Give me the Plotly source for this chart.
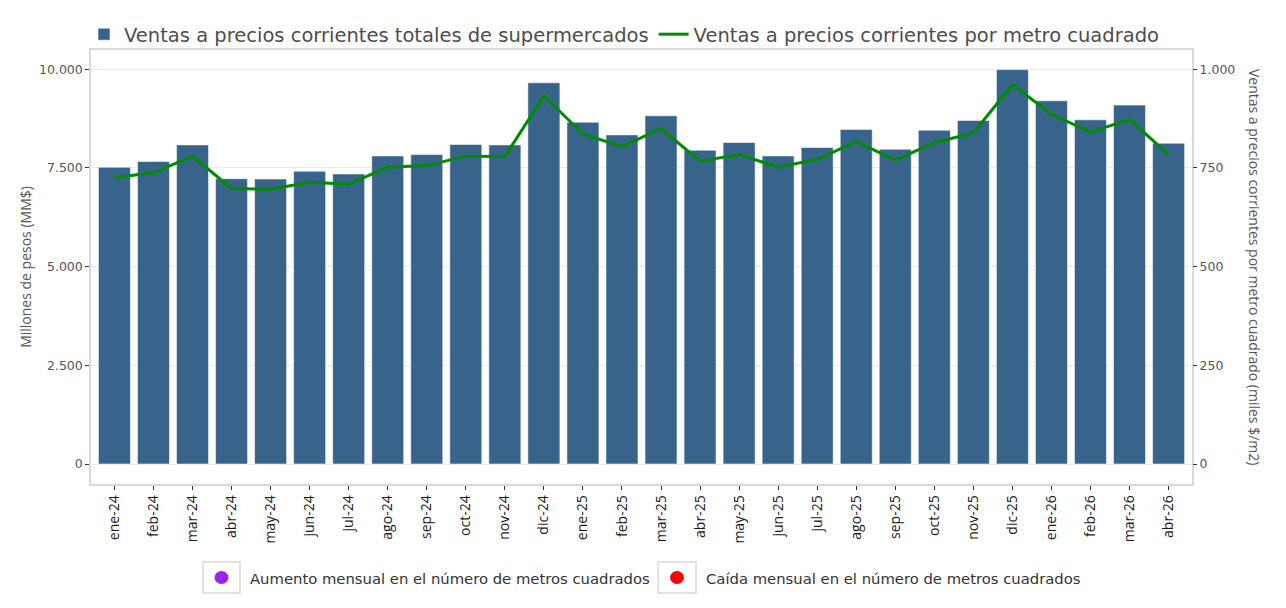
import plotly.graph_objects as go

# ---- data ----
meses = ["ene-24", "feb-24", "mar-24", "abr-24", "may-24", "jun-24", "jul-24",
         "ago-24", "sep-24", "oct-24", "nov-24", "dic-24",
         "ene-25", "feb-25", "mar-25", "abr-25", "may-25", "jun-25", "jul-25",
         "ago-25", "sep-25", "oct-25", "nov-25", "dic-25",
         "ene-26", "feb-26", "mar-26", "abr-26"]

ventas_totales = [7518, 7663, 8084, 7230, 7221, 7416, 7348,
                  7805, 7840, 8094, 8084, 9660,
                  8661, 8338, 8821, 7950, 8145, 7805, 8018,
                  8476, 7975, 8458, 8704, 9992,
                  9203, 8720, 9093, 8127]

ventas_m2 = [726, 738, 780, 698, 696, 714, 709,
             752, 756, 780, 779, 933,
             836, 804, 850, 767, 784, 752, 772,
             817, 770, 814, 839, 961,
             886, 841, 873, 784]

nombre_barras = "Ventas a precios corrientes totales de supermercados"
nombre_linea = "Ventas a precios corrientes por metro cuadrado"
titulo_y1 = "Millones de pesos (MM$)"
titulo_y2 = "Ventas a precios corrientes por metro cuadrado (miles $/m2)"
leyenda_aumento = "Aumento mensual en el número de metros cuadrados"
leyenda_caida = "Caída mensual en el número de metros cuadrados"

# ---- layout geometry (screen pixels; page body has an 8px margin) ----
OFF = 8
W, H = 1286 - OFF, 608 - OFF
L_s, R_s, T_s, B_s = 91, 1192, 50, 484  # plot area on screen


def px(x):
    return (x - L_s) / (R_s - L_s)


def py(y):
    return (B_s - y) / (B_s - T_s)


fig = go.Figure()
fig.add_trace(go.Bar(
    x=meses, y=ventas_totales, name=nombre_barras,
    marker=dict(color="#38648C", line=dict(color="rgba(255,255,255,0.55)", width=1)),
    yaxis="y",
))
fig.add_trace(go.Scatter(
    x=meses, y=ventas_m2, name=nombre_linea, mode="lines",
    line=dict(color="#008B00", width=3),
    yaxis="y2",
))

y0_px, y10k_px = 464, 69.3
k = (y0_px - y10k_px) / 10000.0
ymin = -(B_s - y0_px) / k
ymax = 10000 + (y10k_px - T_s) / k

tick_font = dict(family="DejaVu Sans", size=12.5, color="#555555")

shapes = []
annotations = []

# bottom legend (boxes with circles)
for (bx0, bx1, cx, color, text, tx) in [
    (203, 240, 221.5, "#A020F0", leyenda_aumento, 248),
    (658, 696, 677, "#FF0000", leyenda_caida, 704),
]:
    shapes.append(dict(type="rect", xref="paper", yref="paper", x0=px(bx0), x1=px(bx1),
                       y0=py(562), y1=py(593), line=dict(color="#d9d9d9", width=1.5),
                       fillcolor="white"))
    shapes.append(dict(type="circle", xref="paper", yref="paper", x0=px(cx - 7), x1=px(cx + 7),
                       y0=py(571), y1=py(584), line=dict(width=0), fillcolor=color))
    annotations.append(dict(xref="paper", yref="paper", x=px(tx), y=py(578), text=text,
                            showarrow=False, xanchor="left", yanchor="middle",
                            font=dict(family="DejaVu Sans", size=14.8, color="#333333")))

# right axis title (reads top to bottom)
annotations.append(dict(xref="paper", yref="paper", x=px(1255), y=py(267), text=titulo_y2,
                        showarrow=False, textangle=90, xanchor="center", yanchor="middle",
                        font=dict(family="Open Sans", size=14, color="#555555")))

fig.update_layout(
    width=W, height=H,
    margin=dict(l=L_s - OFF, r=W - (R_s - OFF), t=T_s - OFF, b=H - (B_s - OFF), pad=0,
                autoexpand=False),
    paper_bgcolor="white", plot_bgcolor="white",
    separators=",.",
    bargap=0.18,
    showlegend=True,
    legend=dict(orientation="h", x=px(84), xanchor="left", y=py(15), yanchor="top",
                font=dict(family="DejaVu Sans", size=19.5, color="#4d4d4d"),
                bgcolor="rgba(0,0,0,0)", itemclick=False, traceorder="normal"),
    xaxis=dict(type="category", range=[-0.6, len(meses) - 0.4], tickangle=-90,
               tickfont=dict(family="Open Sans", size=14, color="#1a1a1a"),
               ticks="outside", ticklen=4, tickcolor="#333333", tickwidth=1,
               showline=True, linecolor="#d9d9d9", linewidth=1.5, mirror=True,
               showgrid=False, zeroline=False),
    yaxis=dict(range=[ymin, ymax], tickvals=[0, 2500, 5000, 7500, 10000], tickformat=",d",
               tickfont=tick_font, ticks="outside", ticklen=4, tickcolor="#333333",
               showline=True, linecolor="#d9d9d9", linewidth=1.5, mirror=True,
               showgrid=True, gridcolor="#ebebeb", gridwidth=1, zeroline=False,
               title=dict(text=titulo_y1, font=dict(family="Open Sans", size=14, color="#555555"),
                          standoff=4)),
    yaxis2=dict(range=[ymin / 10, ymax / 10], tickvals=[0, 250, 500, 750, 1000], tickformat=",d",
                overlaying="y", side="right", tickfont=tick_font, ticks="outside", ticklen=4,
                tickcolor="#333333", showline=False, showgrid=False, zeroline=False),
    shapes=shapes,
    annotations=annotations,
)

fig.write_html("out.html")
